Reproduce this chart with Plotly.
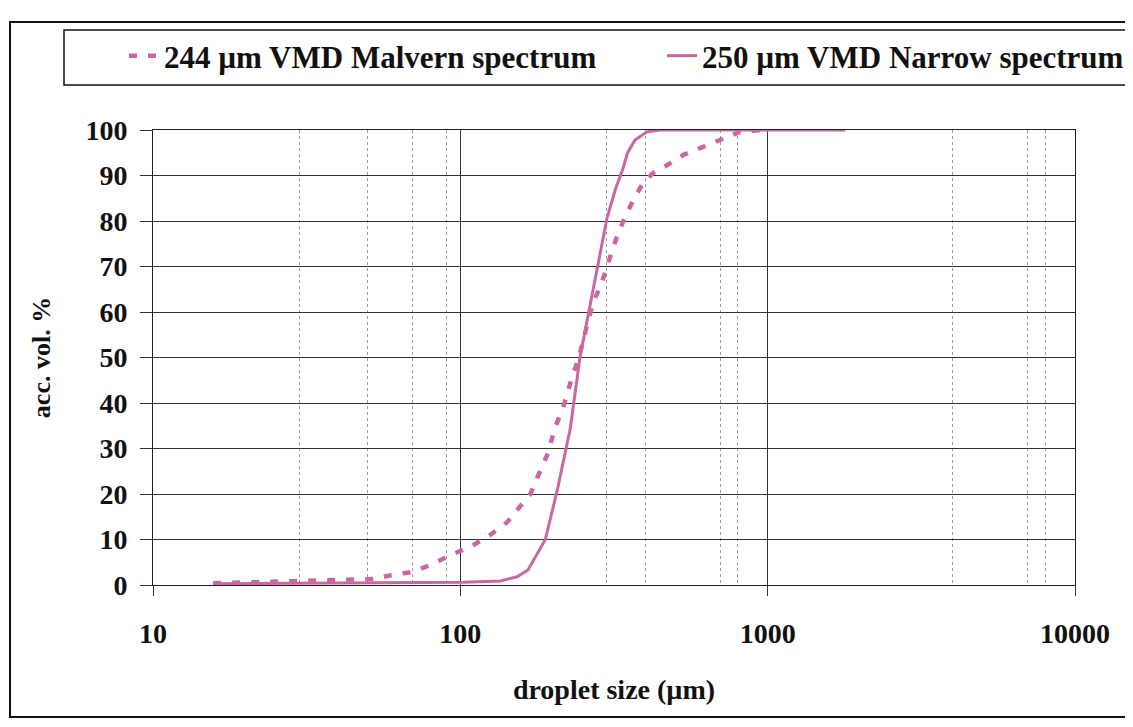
import plotly.graph_objects as go

# ---- data ----
malvern_size = [15.7, 25, 33, 38.5, 52, 60, 70, 80, 93, 108, 125, 142, 156, 169, 179,
                193, 203, 216, 231, 243, 256, 270, 287, 300, 321, 344, 368, 393, 423,
                464, 531, 617, 716, 813, 959]
malvern_vol = [0.4, 0.7, 0.9, 1.1, 1.3, 2.2, 2.9, 4.4, 6.6, 8.4, 11, 13.8, 17, 20, 24,
               29, 34.5, 39, 45.7, 50, 56, 62, 66, 70, 76, 81, 85, 88.3, 90.5,
               92, 94.5, 96.3, 98.2, 99.6, 100]

narrow_size = [15.7, 30, 60, 102, 135, 153, 166, 189, 207, 223, 228, 245, 264, 282,
               300, 319, 338, 350, 370, 405, 447, 700, 1786]
narrow_vol = [0.3, 0.4, 0.5, 0.6, 0.9, 1.8, 3.3, 10, 21, 32, 34.5, 50, 61, 70.7,
              80.6, 86.8, 91.5, 95, 97.8, 99.6, 100, 100, 100]

series_names = ["244 \u00b5m VMD Malvern spectrum", "250 \u00b5m VMD Narrow spectrum"]
x_tick_vals = [10, 100, 1000, 10000]
x_tick_text = ["10", "100", "1000", "10000"]
x_minor_vals = [30, 50, 70, 90, 300, 400, 700, 800, 4000, 7000, 8000]
y_tick_vals = [0, 10, 20, 30, 40, 50, 60, 70, 80, 90, 100]

PINK = "#CC66A0"
FONT = "Liberation Serif, Times New Roman, serif"
TXT = "#111"

fig = go.Figure()
fig.add_trace(go.Scatter(
    x=malvern_size, y=malvern_vol, mode="lines", name=series_names[0],
    line=dict(color=PINK, width=4.5, dash="8px,11px"), cliponaxis=False,
    legend="legend"))
fig.add_trace(go.Scatter(
    x=narrow_size, y=narrow_vol, mode="lines", name=series_names[1],
    line=dict(color=PINK, width=3), cliponaxis=False,
    legend="legend2"))

# page has an 8px body margin on every side: work in screen px, convert to figure px
OFF = 8
FW, FH = 1133 - 2 * OFF, 727 - 2 * OFF
L, R, T, B = 153 - OFF, 1075 - OFF, 130 - OFF, 585 - OFF
W, H = R - L, B - T
def px(x):
    return (x - OFF - L) / W
def py(y):
    return (B - (y - OFF)) / H

def f(size):
    return dict(family=FONT, size=size, color=TXT, weight="bold")

legend_common = dict(orientation="h", xanchor="left", yanchor="middle",
                     font=f(31), bgcolor="rgba(0,0,0,0)", borderwidth=0)

fig.update_layout(
    width=FW, height=FH,
    margin=dict(l=L, r=FW - R, t=T, b=FH - B, autoexpand=False),
    paper_bgcolor="white", plot_bgcolor="white",
    font=f(28),
    showlegend=True,
    legend=dict(x=px(124), y=py(56), **legend_common),
    legend2=dict(x=px(662), y=py(56), **legend_common),
    shapes=[
        # outer frame
        dict(type="rect", xref="paper", yref="paper", x0=px(10), x1=px(1200),
             y0=py(717), y1=py(22), line=dict(color="#111", width=2), layer="below"),
        # legend frame
        dict(type="rect", xref="paper", yref="paper", x0=px(64), x1=px(1200),
             y0=py(85), y1=py(30), line=dict(color="#111", width=1.5), layer="below"),
    ],
)

fig.update_xaxes(
    type="log", range=[1, 4],
    tickvals=x_tick_vals, ticktext=x_tick_text,
    ticks="outside", ticklen=10, tickwidth=1, tickcolor="#333",
    ticklabelstandoff=13,
    tickfont=f(28),
    showgrid=True, gridcolor="#333", gridwidth=1,
    minor=dict(tickvals=x_minor_vals, showgrid=True, gridcolor="#9a9a9a",
               griddash="dot", gridwidth=1, ticks=""),
    showline=True, linecolor="#222", linewidth=1, mirror=True,
    layer="below traces",
    title=dict(text="droplet size (\u00b5m)", standoff=31, font=f(28)),
    zeroline=False,
)
fig.update_yaxes(
    range=[0, 100],
    tickvals=y_tick_vals,
    ticks="outside", ticklen=12, tickwidth=1, tickcolor="#333",
    ticklabelstandoff=7,
    tickfont=f(28),
    showgrid=True, gridcolor="#333", gridwidth=1,
    showline=True, linecolor="#222", linewidth=1, mirror=True,
    layer="below traces",
    title=dict(text="acc. vol. %", standoff=27, font=f(26)),
    zeroline=False,
)

fig.write_html("out.html")
